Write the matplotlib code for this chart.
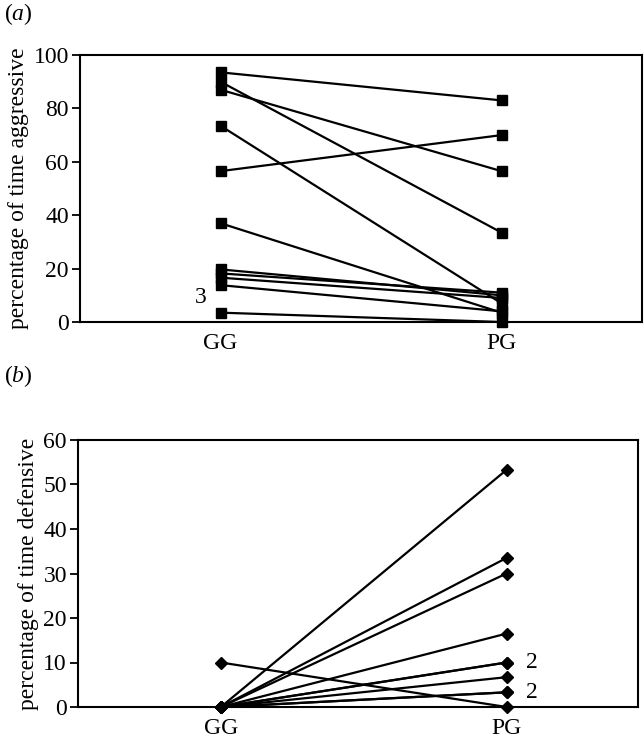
import matplotlib
matplotlib.use("Agg")
import matplotlib.pyplot as plt

plt.rcParams['font.family'] = ['Liberation Serif', 'DejaVu Serif']
plt.rcParams['mathtext.fontset'] = 'custom'
plt.rcParams['mathtext.rm'] = 'Liberation Serif'
plt.rcParams['mathtext.it'] = 'Liberation Serif:italic'

groups = ['GG', 'PG']

# (a) percentage of time aggressive, one line per individual
agg_gg = [93.5, 90, 87, 73.5, 56.5, 37, 19.7, 18.2, 16.6, 13.8, 3.5]
agg_pg = [83, 33.5, 56.5, 7, 70, 3.5, 10, 11, 9, 4, 0]

# (b) percentage of time defensive
def_gg = [0, 0, 0, 0, 0, 0, 0, 0, 0, 10]
def_pg = [53.3, 33.5, 30, 16.5, 10, 10, 6.7, 3.3, 3.3, 0]

W, H = 644, 739
fig = plt.figure(figsize=(W / 100, H / 100), dpi=100)

def px_axes(left, top, right, bottom):
    return fig.add_axes([left / W, 1 - bottom / H, (right - left) / W, (bottom - top) / H])

ax1 = px_axes(80, 55, 642, 322)
ax2 = px_axes(78, 440, 638, 707)

for g, p in zip(agg_gg, agg_pg):
    ax1.plot([1, 2], [g, p], color='black', lw=1.6, marker='s', ms=7,
             clip_on=False, zorder=3)
for g, p in zip(def_gg, def_pg):
    ax2.plot([1, 2], [g, p], color='black', lw=1.6, marker='D', ms=6,
             clip_on=False, zorder=3)

fs = 17

ax1.set_xlim(0.5, 2.5)
ax1.set_ylim(0, 100)
ax1.set_yticks(range(0, 101, 20))
ax1.set_ylabel('percentage of time aggressive', fontsize=fs, labelpad=3)
ax1.text(0.93, 9, '3', fontsize=fs, ha='center', va='center')

ax2.set_xlim(0.5, 2.46)
ax2.set_ylim(0, 60)
ax2.set_yticks(range(0, 61, 10))
ax2.set_ylabel('percentage of time defensive', fontsize=fs, labelpad=3)
ax2.text(2.09, 10, '2', fontsize=fs, ha='center', va='center')
ax2.text(2.09, 3.3, '2', fontsize=fs, ha='center', va='center')

for ax in (ax1, ax2):
    ax.set_xticks([1, 2], labels=groups)
    ax.tick_params(axis='x', length=0, labelsize=fs, pad=8)
    ax.tick_params(axis='y', direction='out', length=6, width=1.3, labelsize=fs, pad=2)
    for s in ax.spines.values():
        s.set_linewidth(1.5)

fig.text(4 / W, 1 - 14 / H, r'($\mathit{a}$)', fontsize=fs, va='center', ha='left')
fig.text(4 / W, 1 - 376 / H, r'($\mathit{b}$)', fontsize=fs, va='center', ha='left')

fig.savefig('out.png', dpi=100)
